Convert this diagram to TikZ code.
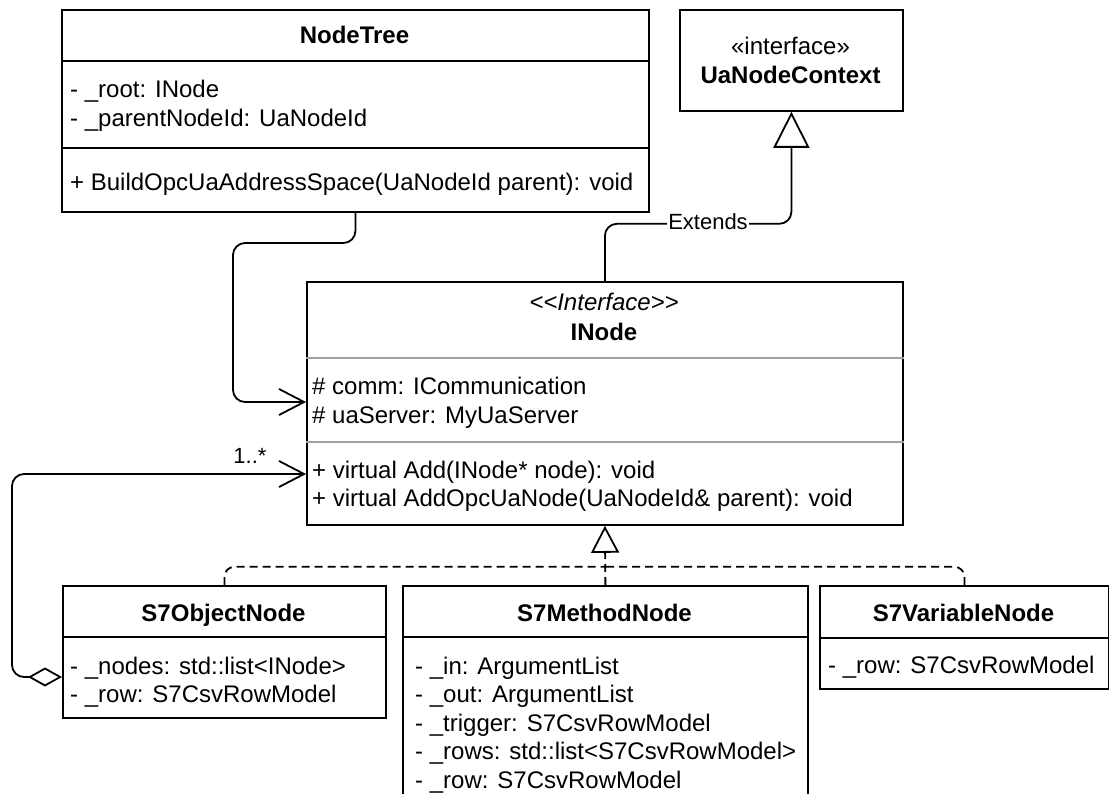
\documentclass[tikz,border=0pt]{standalone}
\usepackage{fontspec}
\setmainfont{Liberation Sans}
\usetikzlibrary{arrows.meta,calc}
\definecolor{divgray}{HTML}{A0A0A0}
\tikzset{
  box/.style={draw, line width=1.8pt, rectangle, anchor=north west, inner sep=0pt},
  divider/.style={line width=1.8pt},
  softdivider/.style={line width=1.8pt, draw=divgray},
  % multi-line text: the base anchor sits on the last line
  body/.style={anchor=base west, inner sep=0pt, align=left, font=\fontsize{24}{28.5}\selectfont},
  plain/.style={anchor=base, inner sep=0pt, font=\fontsize{24}{28}\selectfont},
  title/.style={anchor=base, inner sep=0pt, font=\fontsize{24}{28}\selectfont\bfseries},
  lbl/.style={inner sep=1pt, font=\fontsize{22}{26}\selectfont},
  conn/.style={line width=1.8pt, rounded corners=12pt},
  real/.style={conn, rounded corners=10pt, dash pattern=on 8pt off 5pt},
  barb/.tip={Straight Barb[length=25pt,width=26pt]},
  hollow/.tip={Triangle[open,length=36pt,width=36pt]},
  smallhollow/.tip={Triangle[open,length=27pt,width=28pt]},
  agg/.tip={Diamond[open,length=34pt,width=19pt]}
}
\begin{document}
\begin{tikzpicture}[x=1pt,y=-1pt]
\useasboundingbox (0,0) rectangle (1109,794);
\clip (0,0) rectangle (1109,794);
\fill[white] (0,0) rectangle (1109,794);

% class outlines
\node[box, minimum width=587pt, minimum height=202pt] (nodetree) at (61,9) {};
\node[box, minimum width=223pt, minimum height=101pt] (ctx) at (679,9) {};
\node[box, minimum width=596pt, minimum height=243pt] (inode) at (306,281) {};
\node[box, minimum width=323pt, minimum height=132pt] (obj) at (62,585) {};
\node[box, minimum width=405pt, minimum height=260pt] (meth) at (402,585) {};
\node[box, minimum width=289pt, minimum height=103pt] (var) at (819,585) {};

% compartment separators
\draw[divider] (nodetree.west |- 0,61) -- (nodetree.east |- 0,61);
\draw[divider] (nodetree.west |- 0,148) -- (nodetree.east |- 0,148);
\draw[softdivider] (inode.west |- 0,358) -- (inode.east |- 0,358);
\draw[softdivider] (inode.west |- 0,442) -- (inode.east |- 0,442);
\draw[divider] (obj.west |- 0,637) -- (obj.east |- 0,637);
\draw[divider] (meth.west |- 0,637) -- (meth.east |- 0,637);
\draw[divider] (var.west |- 0,638) -- (var.east |- 0,638);

% NodeTree
\node[title] (ntname) at (354.5,44) {NodeTree};
\node[body] (ntattr) at (70,126.5) {- \_root: INode\\- \_parentNodeId: UaNodeId};
\node[body] (ntops) at (70,190.5) {+ BuildOpcUaAddressSpace(UaNodeId parent): void};

% UaNodeContext
\node[plain] (ctxst) at (790.5,55) {«interface»};
\node[title] (ctxname) at (790.5,83.5) {UaNodeContext};

% INode
\node[plain, font=\fontsize{24}{28}\selectfont\itshape] (inst) at (604,310.5) {<{}<Interface>{}>};
\node[title] (inname) at (604,340.5) {INode};
\node[body] (inattr) at (312,423.5) {\# comm: ICommunication\\\# uaServer: MyUaServer};
\node[body] (inops) at (312,506.5) {+ virtual Add(INode* node): void\\+ virtual AddOpcUaNode(UaNodeId\& parent): void};

% S7ObjectNode
\node[title] (objname) at (223.5,621.5) {S7ObjectNode};
\node[body] (objattr) at (70,702.5) {- \_nodes: std::list<INode>\\- \_row: S7CsvRowModel};

% S7MethodNode
\node[title] (methname) at (604.5,621.5) {S7MethodNode};
\node[body] (methattr) at (415,788) {- \_in: ArgumentList\\- \_out: ArgumentList\\- \_trigger: S7CsvRowModel\\- \_rows: std::list<S7CsvRowModel>\\- \_row: S7CsvRowModel};

% S7VariableNode
\node[title] (varname) at (963.5,621.5) {S7VariableNode};
\node[body] (varattr) at (828,673.5) {- \_row: S7CsvRowModel};

% association NodeTree -> INode
\coordinate (ntbend) at (233,243);
\draw[conn, -barb] (nodetree.south) |- (ntbend) |- ([yshift=-121pt]inode.north west);

% INode extends UaNodeContext
\draw[conn, -hollow] (inode.north) |- ([yshift=-112pt]ctx.south) -- (ctx.south);
\node[lbl, fill=white] (ext) at (708,222) {Extends};

% aggregation S7ObjectNode <>-> INode
\coordinate (aggbend) at (12,474);
\draw[conn, agg-barb] ([yshift=-92pt]obj.north west) -| (aggbend) -- ([yshift=-193pt]inode.north west);
\node[lbl] (mult) at (250,456) {1..*};

% realizations of INode
\coordinate (join) at ([yshift=-41pt]inode.south);
\draw[real] (obj.north) |- (join);
\draw[real] (var.north) |- (join);
\draw[real, -smallhollow] (meth.north) -- (inode.south);
\end{tikzpicture}
\end{document}
